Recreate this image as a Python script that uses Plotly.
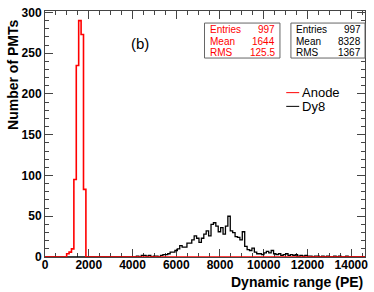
import numpy as np
import plotly.graph_objects as go

# ---------------- data ----------------
bin_width = 110
n_bins = 133
x_range = [0, 14630]
y_range = [0, 301.8]

anode_first_bin = 9
anode_counts = [4, 6, 10, 95, 235, 290, 273, 83]

dy8_first_bin = 38
dy8_counts = [1, 0, 2, 2, 1, 2, 0, 1, 1, 0,
              2, 3, 3, 4, 6, 6, 8, 10, 14, 12,
              12, 17, 17, 21, 26, 23, 18, 23, 28, 32,
              26, 40, 42, 38, 31, 36, 28, 38, 50, 32,
              30, 25, 24, 21, 31, 13, 9, 8, 11, 6,
              4, 4, 3, 5, 7, 5, 8, 4, 3, 4,
              2, 3, 4, 2, 3, 2, 3, 1, 2, 1,
              2, 1, 1, 0, 1, 1, 0, 1, 0, 1,
              0, 0, 1, 0, 1, 0, 0, 1]

x_ticks = [0, 2000, 4000, 6000, 8000, 10000, 12000, 14000]
y_ticks = [0, 50, 100, 150, 200, 250, 300]

stats_anode = [("Entries", "997"), ("Mean", "1644"), ("RMS", "125.5")]
stats_dy8 = [("Entries", "997"), ("Mean", "8328"), ("RMS", "1367")]

# ---------------- helpers ----------------
W, H = 374, 292
L, R, T, B = 45, 8, 6, 35
PW, PH = W - L - R, H - T - B


def px(xp):
    return (xp - L) / PW


def py(yp):
    return (H - B - yp) / PH


edges = np.arange(n_bins + 1) * bin_width


def full(first, counts):
    arr = np.zeros(n_bins)
    arr[first:first + len(counts)] = counts
    return np.append(arr, arr[-1])


FONT = "Liberation Sans, Arial, Helvetica, sans-serif"

fig = go.Figure()
fig.add_trace(go.Scatter(x=edges, y=full(dy8_first_bin, dy8_counts), mode="lines",
                         line=dict(color="black", width=1.3, shape="hv"), name="Dy8",
                         showlegend=False, hoverinfo="skip"))
fig.add_trace(go.Scatter(x=edges, y=full(anode_first_bin, anode_counts), mode="lines",
                         line=dict(color="#ff0000", width=1.6, shape="hv"), name="Anode",
                         showlegend=False, hoverinfo="skip"))

axcol = "#444444"
common = dict(showline=True, linecolor=axcol, linewidth=1, mirror="allticks",
              ticks="inside", ticklen=8, tickwidth=1, tickcolor=axcol,
              showgrid=False, zeroline=False, layer="below traces",
              tickfont=dict(family=FONT, size=12, color="black", weight="bold"))

fig.update_xaxes(range=x_range, tickvals=x_ticks, ticktext=[str(v) for v in x_ticks],
                 ticklabelstandoff=-3,
                 minor=dict(ticks="inside", ticklen=4, dtick=500, tick0=0, tickcolor=axcol,
                            showgrid=False),
                 **common)
fig.update_yaxes(range=y_range, tickvals=y_ticks, ticktext=[str(v) for v in y_ticks],
                 minor=dict(ticks="inside", ticklen=4, dtick=10, tick0=0, tickcolor=axcol,
                            showgrid=False),
                 **common)

shapes = []
annots = []

# stats boxes
def stats_box(x0, x1, y0, y1, rows, color, lab_x, val_x, row_y):
    shapes.append(dict(type="rect", xref="paper", yref="paper",
                       x0=px(x0), x1=px(x1), y0=py(y1), y1=py(y0),
                       line=dict(color="#666666", width=1), fillcolor="white", layer="above"))
    for (lab, val), ry in zip(rows, row_y):
        annots.append(dict(xref="paper", yref="paper", x=px(lab_x), y=py(ry), text=lab,
                           xanchor="left", yanchor="middle", showarrow=False,
                           font=dict(family=FONT, size=10, color=color)))
        annots.append(dict(xref="paper", yref="paper", x=px(val_x), y=py(ry), text=val,
                           xanchor="right", yanchor="middle", showarrow=False,
                           font=dict(family=FONT, size=10, color=color)))

rows_y = [25, 36.7, 48.3]
stats_box(205, 280.7, 18.3, 54, stats_anode, "#ff0000", 208.5, 278, rows_y)
stats_box(291.7, 366, 18.3, 54, stats_dy8, "black", 295, 364, rows_y)

# legend
for name, color, ly in [("Anode", "#ff0000", 89.3), ("Dy8", "black", 103.3)]:
    shapes.append(dict(type="line", xref="paper", yref="paper",
                       x0=px(287), x1=px(300), y0=py(ly), y1=py(ly),
                       line=dict(color=color, width=1)))
    annots.append(dict(xref="paper", yref="paper", x=px(300.5), y=py(ly), text=name,
                       xanchor="left", yanchor="middle", showarrow=False,
                       font=dict(family=FONT, size=13, color="black")))

# (b) label
annots.append(dict(xref="paper", yref="paper", x=px(140), y=py(39), text="(b)",
                   xanchor="center", yanchor="middle", showarrow=False,
                   font=dict(family=FONT, size=15, color="black")))

# axis titles
annots.append(dict(xref="paper", yref="paper", x=px(13), y=py(13), text="Number of PMTs",
                   textangle=-90, xanchor="center", yanchor="top", showarrow=False,
                   font=dict(family=FONT, size=14, color="black", weight="bold")))
annots.append(dict(xref="paper", yref="paper", x=px(366.5), y=py(283), text="Dynamic range (PE)",
                   xanchor="right", yanchor="middle", showarrow=False,
                   font=dict(family=FONT, size=14, color="black", weight="bold")))

fig.update_layout(width=W, height=H, margin=dict(l=L, r=R, t=T, b=B, pad=0),
                  paper_bgcolor="white", plot_bgcolor="white",
                  shapes=shapes, annotations=annots, showlegend=False)

fig.write_html("out.html", config={"displayModeBar": False},
               post_script="document.body.style.margin='0';document.body.style.padding='0';"
                           "document.documentElement.style.overflow='hidden';")
